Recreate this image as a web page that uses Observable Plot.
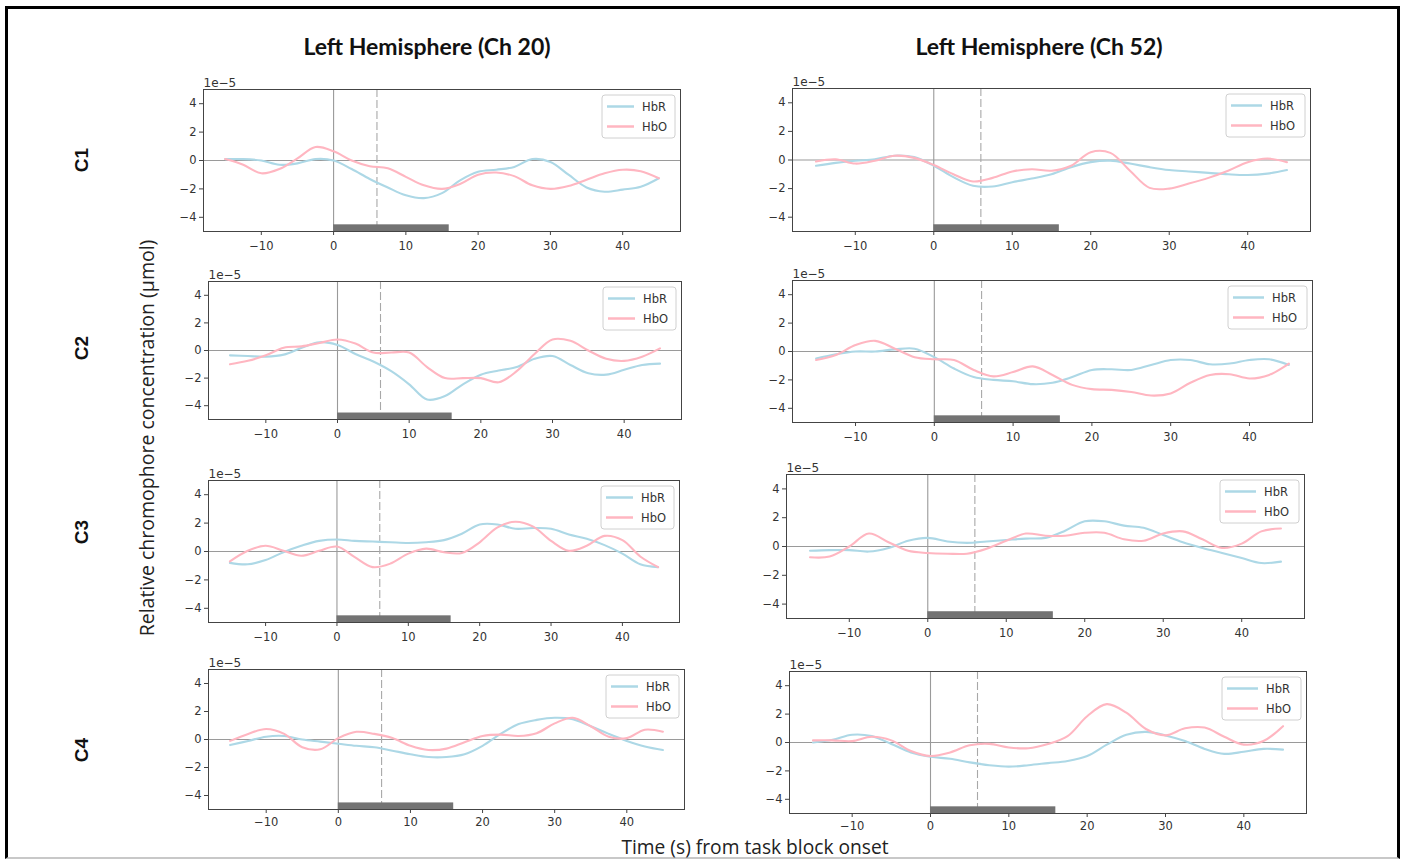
<!DOCTYPE html>
<html>
<head>
<meta charset="utf-8">
<script src="https://cdn.jsdelivr.net/npm/d3@7"></script>
<script src="https://cdn.jsdelivr.net/npm/@observablehq/plot@0.6"></script>
<style>
  body { margin: 0; background: #fff; }
  #fig { position: relative; width: 1404px; height: 861px; overflow: hidden; background: #fff; }
  .abs { position: absolute; }
  .border { left: 5px; top: 6px; width: 1395px; height: 853px; box-sizing: border-box;
            border-top: 3px solid #000; border-left: 3px solid #000; border-right: 3px solid #000;
            border-bottom: 2px solid #c8c8c8; }
  .coltitle { font-family: "Lato", "Open Sans", sans-serif; font-weight: bold; font-size: 23px; color: #111;
              transform: translate(-50%, -50%); white-space: nowrap; }
  .rowlabel { font-family: "Liberation Sans", Arial, sans-serif; font-weight: bold; font-size: 19px; color: #111;
              transform: translate(-50%, -50%) rotate(-90deg); white-space: nowrap; }
  .ylabel { font-family: "Open Sans", sans-serif; font-size: 19.5px; color: #222; line-height: 1;
            transform: translate(-50%, -50%) rotate(-90deg); white-space: nowrap; }
  .xlabel { font-family: "Open Sans", sans-serif; font-size: 19.2px; color: #222; line-height: 1;
            transform: translate(-50%, -50%); white-space: nowrap; }
  svg.panel text { font-family: "DejaVu Sans", sans-serif; }
</style>
</head>
<body>
<div id="fig"><div class="abs border"></div></div>
<script>
// ---------------- data ----------------
const time = [-15,-12.5,-10,-7.5,-5,-2.5,0,2.5,5,7.5,10,12.5,15,17.5,20,22.5,25,27.5,30,32.5,35,37.5,40,42.5,45];

const c1LeftHbR  = [0.1,0.1,0.0,-0.3,-0.2,0.1,0.0,-0.6,-1.3,-1.9,-2.45,-2.65,-2.3,-1.4,-0.8,-0.65,-0.45,0.1,-0.1,-1.0,-1.9,-2.2,-2.05,-1.85,-1.25];
const c1LeftHbO  = [0.1,-0.3,-0.9,-0.6,0.15,0.95,0.65,0.0,-0.4,-0.55,-1.15,-1.75,-2.0,-1.65,-1.0,-0.85,-1.1,-1.75,-2.0,-1.8,-1.35,-0.9,-0.65,-0.75,-1.25];
const c1RightHbR = [-0.4,-0.2,-0.05,0.05,0.3,0.2,-0.4,-1.2,-1.8,-1.85,-1.55,-1.3,-1.0,-0.5,-0.15,-0.05,-0.25,-0.5,-0.7,-0.8,-0.9,-1.0,-1.05,-0.95,-0.7];
const c1RightHbO = [-0.1,0.05,-0.25,-0.05,0.3,0.15,-0.35,-1.0,-1.5,-1.25,-0.8,-0.65,-0.75,-0.4,0.55,0.5,-0.75,-1.95,-2.0,-1.65,-1.25,-0.75,-0.15,0.1,-0.15];

const c2LeftHbR  = [-0.35,-0.4,-0.45,-0.3,0.2,0.6,0.4,-0.25,-0.8,-1.5,-2.45,-3.55,-3.3,-2.45,-1.75,-1.45,-1.2,-0.6,-0.4,-1.05,-1.65,-1.75,-1.4,-1.05,-0.95];
const c2LeftHbO  = [-1.0,-0.75,-0.35,0.2,0.3,0.55,0.8,0.5,-0.15,-0.15,-0.15,-1.2,-2.0,-2.0,-2.0,-2.3,-1.5,-0.25,0.8,0.7,0.0,-0.6,-0.75,-0.45,0.15];
const c2RightHbR = [-0.5,-0.2,0.0,0.0,0.15,0.2,-0.4,-1.2,-1.8,-2.0,-2.1,-2.3,-2.2,-1.8,-1.3,-1.25,-1.3,-0.95,-0.6,-0.6,-0.9,-0.85,-0.6,-0.55,-0.95];
const c2RightHbO = [-0.6,-0.25,0.45,0.75,0.2,-0.4,-0.55,-0.6,-1.3,-1.75,-1.45,-1.05,-1.65,-2.35,-2.65,-2.7,-2.85,-3.1,-2.95,-2.2,-1.65,-1.6,-1.9,-1.65,-0.85];

const c3LeftHbR  = [-0.8,-0.9,-0.6,-0.05,0.4,0.75,0.85,0.75,0.7,0.65,0.6,0.65,0.8,1.25,1.9,1.9,1.6,1.65,1.6,1.2,0.9,0.45,-0.15,-0.9,-1.1];
const c3LeftHbO  = [-0.7,0.05,0.4,0.05,-0.3,0.05,0.35,-0.4,-1.1,-0.85,-0.15,0.2,-0.05,-0.1,0.65,1.7,2.1,1.75,0.75,0.05,0.4,1.1,0.8,-0.35,-1.1];
const c3RightHbR = [-0.3,-0.25,-0.25,-0.35,-0.1,0.4,0.6,0.35,0.25,0.35,0.45,0.55,0.6,1.1,1.75,1.75,1.45,1.3,0.8,0.3,-0.1,-0.45,-0.8,-1.15,-1.05];
const c3RightHbO = [-0.75,-0.7,0.0,0.9,0.3,-0.3,-0.45,-0.5,-0.5,-0.15,0.4,0.9,0.75,0.75,0.95,0.95,0.5,0.4,0.9,1.05,0.5,-0.1,0.2,1.05,1.25];

const c4LeftHbR  = [-0.4,-0.1,0.2,0.25,0.0,-0.15,-0.3,-0.45,-0.55,-0.8,-1.05,-1.25,-1.25,-1.05,-0.45,0.4,1.1,1.4,1.55,1.45,0.95,0.4,-0.1,-0.5,-0.75];
const c4LeftHbO  = [-0.1,0.4,0.75,0.4,-0.55,-0.7,0.1,0.55,0.4,0.1,-0.45,-0.75,-0.65,-0.2,0.25,0.35,0.25,0.45,1.15,1.55,0.95,0.2,0.1,0.7,0.55];
const c4RightHbR = [0.0,0.2,0.55,0.45,-0.1,-0.7,-1.0,-1.15,-1.4,-1.6,-1.7,-1.6,-1.45,-1.3,-0.95,-0.15,0.55,0.75,0.5,0.1,-0.45,-0.8,-0.65,-0.45,-0.5];
const c4RightHbO = [0.15,0.15,0.1,0.4,0.15,-0.6,-0.95,-0.7,-0.2,-0.1,-0.35,-0.4,-0.1,0.45,1.85,2.7,2.1,0.95,0.5,1.0,1.05,0.4,-0.15,0.1,1.15];

const seriesNames  = ["HbR", "HbO"];
const columnTitles = ["Left Hemisphere (Ch 20)", "Left Hemisphere (Ch 52)"];
const rowLabels    = ["C1", "C2", "C3", "C4"];
const xTicks = [-10, 0, 10, 20, 30, 40];
const yTicks = [-4, -2, 0, 2, 4];
const onsetTime = 0;
const markerTime = 6;
const taskBlocks = [{start: 0, end: 16}];
const exponentLabel = "1e\u22125";
const yAxisTitle = "Relative chromophore concentration (\u00b5mol)";
const xAxisTitle = "Time (s) from task block onset";

const panelData = [
  [[c1LeftHbR, c1LeftHbO], [c1RightHbR, c1RightHbO]],
  [[c2LeftHbR, c2LeftHbO], [c2RightHbR, c2RightHbO]],
  [[c3LeftHbR, c3LeftHbO], [c3RightHbR, c3RightHbO]],
  [[c4LeftHbR, c4LeftHbO], [c4RightHbR, c4RightHbO]]
];

// ---------------- layout (pixel frames of each axes box: left, top, right, bottom) ----------------
const frames = [
  [[203, 89, 680, 231], [792, 88, 1310, 231]],
  [[208, 281, 681, 419], [792, 280, 1312, 422]],
  [[208, 480, 679, 622], [786, 474, 1304, 618]],
  [[208, 669, 684, 809], [789, 671, 1306, 813]]
];
const legendGeom = [{w: 73, line: 27}, {w: 79, line: 31}];
const colors = ["#add8e6", "#ffb6c1"];
const fig = document.getElementById("fig");

function addDiv(cls, text, x, y) {
  const d = document.createElement("div");
  d.className = "abs " + cls;
  d.textContent = text;
  d.style.left = x + "px";
  d.style.top = y + "px";
  fig.appendChild(d);
}

const mL = 34, mR = 8, mT = 24, mB = 30;

panelData.forEach((row, r) => {
  row.forEach((series, c) => {
    const [l, t, rr, b] = frames[r][c];
    const w = rr - l + mL + mR, h = b - t + mT + mB;
    const pad = r === 3 ? 4 : 6;
    const marks = [
      Plot.ruleY([0], {stroke: "#9a9a9a", strokeWidth: 1.1}),
      Plot.ruleX([onsetTime], {stroke: "#9a9a9a", strokeWidth: 1.1}),
      Plot.ruleX([markerTime], {stroke: "#a8a8a8", strokeWidth: 1.1, strokeDasharray: "8,3"}),
      Plot.rect(taskBlocks, {x1: "start", x2: "end", y1: () => -5, y2: () => -4.53, fill: "#737373"})
    ];
    series.forEach((vals, i) => {
      marks.push(Plot.line(time.map((x, k) => ({t: x, v: vals[k]})),
        {x: "t", y: "v", stroke: colors[i], strokeWidth: 2.1, curve: "catmull-rom"}));
    });
    marks.push(Plot.frame({stroke: "#444", strokeWidth: 1}));
    marks.push(Plot.axisX({ticks: xTicks, tickSize: 4, tickPadding: pad, fontSize: 11.5, label: null, stroke: "#444", fill: "#333"}));
    marks.push(Plot.axisY({ticks: yTicks, tickSize: 4, tickPadding: 3, fontSize: 11.5, label: null, stroke: "#444", fill: "#333"}));
    marks.push(Plot.text([exponentLabel], {frameAnchor: "top-left", textAnchor: "start", lineAnchor: "bottom", dy: -3, fontSize: 12, fill: "#333"}));

    const svg = Plot.plot({
      width: w, height: h,
      marginLeft: mL, marginRight: mR, marginTop: mT, marginBottom: mB,
      x: {domain: [-18, 48]},
      y: {domain: [-5, 5]},
      style: "font-family: 'DejaVu Sans', sans-serif; color: #333; background: transparent; overflow: visible;",
      marks
    });
    svg.classList.add("panel");
    // legend box (matplotlib style), drawn inside the axes
    const lg = legendGeom[c];
    const g = d3.select(svg).append("g").attr("font-family", "DejaVu Sans").attr("font-size", 11.5).attr("text-anchor", "start");
    const x0 = w - mR - 5 - lg.w, y0 = mT + 6;
    g.append("rect").attr("x", x0).attr("y", y0).attr("width", lg.w).attr("height", 43).attr("rx", 3)
      .attr("fill", "#fff").attr("fill-opacity", 0.85).attr("stroke", "#d0d0d0");
    seriesNames.forEach((name, i) => {
      const yy = y0 + 11.5 + i * 20;
      g.append("line").attr("x1", x0 + 5).attr("x2", x0 + 5 + lg.line).attr("y1", yy).attr("y2", yy)
        .attr("stroke", colors[i]).attr("stroke-width", 2.5);
      g.append("text").attr("x", x0 + 5 + lg.line + 8).attr("y", yy).attr("dy", "0.35em")
        .attr("text-anchor", "start").attr("fill", "#333").text(name);
    });
    svg.style.position = "absolute";
    svg.style.left = (l - mL) + "px";
    svg.style.top = (t - mT) + "px";
    fig.appendChild(svg);
  });
});

// titles and labels
addDiv("coltitle", columnTitles[0], 427, 46);
addDiv("coltitle", columnTitles[1], 1039, 46);
const rowY = [160, 348, 532, 750];
rowLabels.forEach((lab, i) => addDiv("rowlabel", lab, 82, rowY[i]));
addDiv("ylabel", yAxisTitle, 147, 438);
addDiv("xlabel", xAxisTitle, 755, 847);
</script>
</body>
</html>
